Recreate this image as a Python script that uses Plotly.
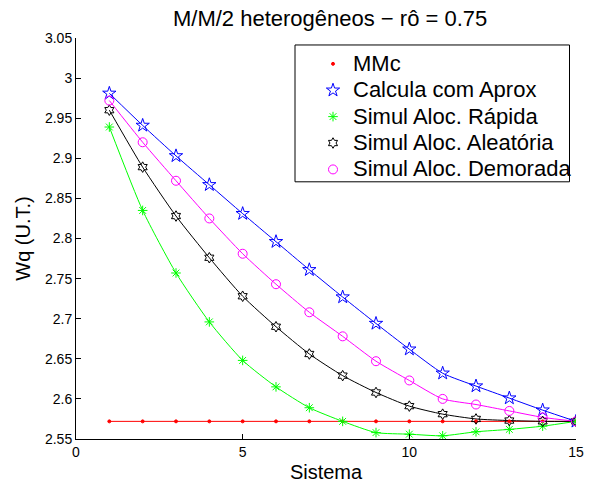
import plotly.graph_objects as go

sistema = list(range(1, 16))
mmc = [2.572] * 15
aprox = [2.981, 2.941, 2.903, 2.867, 2.831, 2.796, 2.761, 2.727, 2.694, 2.662,
         2.632, 2.616, 2.601, 2.586, 2.572]
rapida = [2.939, 2.835, 2.757, 2.696, 2.648, 2.615, 2.589, 2.572, 2.558, 2.556,
          2.554, 2.559, 2.562, 2.566, 2.572]
aleatoria = [2.960, 2.889, 2.828, 2.776, 2.728, 2.690, 2.656, 2.629, 2.608, 2.591,
             2.581, 2.575, 2.573, 2.572, 2.572]
demorada = [2.972, 2.920, 2.872, 2.825, 2.781, 2.743, 2.708, 2.678, 2.647, 2.623,
            2.600, 2.593, 2.585, 2.577, 2.572]

series = [
    ("MMc", mmc, "rgb(255,0,0)", "circle", 3, "linear"),
    ("Calcula com Aprox", aprox, "rgb(0,0,255)", "star-open", 10, "spline"),
    ("Simul Aloc. Rápida", rapida, "rgb(0,255,0)", "asterisk-open", 8, "spline"),
    ("Simul Aloc. Aleatória", aleatoria, "rgb(0,0,0)", "hexagram-open", 8, "spline"),
    ("Simul Aloc. Demorada", demorada, "rgb(255,0,255)", "circle-open", 9, "spline"),
]

fig = go.Figure()
# lines (no legend)
for name, ys, col, sym, sz, shape in series:
    fig.add_trace(go.Scatter(x=sistema, y=ys, mode="lines",
                             line=dict(color=col, width=1, shape=shape, smoothing=0.6),
                             showlegend=False, hoverinfo="skip"))
# markers (legend)
for name, ys, col, sym, sz, shape in series:
    fig.add_trace(go.Scatter(x=sistema, y=ys, mode="markers",
                             name='<span style="font-size:22px">' + name + '</span>',
                             marker=dict(symbol=sym, size=sz, color=col,
                                         line=dict(color=col, width=1))))

font_family = "Liberation Sans, Arial, sans-serif"

fig.update_layout(
    width=589, height=487,
    margin=dict(l=76, r=5, t=38, b=48),
    paper_bgcolor="white", plot_bgcolor="white",
    font=dict(family=font_family, color="black", size=14),
    title=dict(text="M/M/2 heterogêneos − rô = 0.75", x=0.5605, xanchor="center",
               y=0.963, yanchor="middle", font=dict(size=22, family=font_family)),
    legend=dict(x=0.474, xanchor="left", y=0.981, yanchor="top",
                bgcolor="rgba(0,0,0,0)", borderwidth=0,
                font=dict(size=18, family=font_family)),
    shapes=[dict(type="rect", xref="paper", yref="paper",
                 x0=0.438, x1=0.987, y0=0.6414, y1=0.9826,
                 line=dict(color="black", width=1), fillcolor="rgba(0,0,0,0)")],
)

fig.update_xaxes(range=[0, 15], tickmode="array", tickvals=[0, 5, 10, 15],
                 ticks="inside", ticklen=5, tickcolor="black", showline=True,
                 linecolor="black", linewidth=1, showgrid=False, zeroline=False,
                 mirror=False, tickfont=dict(size=14), ticklabeloverflow="allow",
                 title=dict(text="Sistema", font=dict(size=20), standoff=6))
fig.update_yaxes(range=[2.55, 3.05], dtick=0.05, tick0=2.55,
                 ticks="inside", ticklen=5, tickcolor="black", showline=True,
                 linecolor="black", linewidth=1, showgrid=False, zeroline=False,
                 mirror=False, tickfont=dict(size=14),
                 title=dict(text="Wq (U.T.)", font=dict(size=20), standoff=8))

fig.write_html("out.html")
